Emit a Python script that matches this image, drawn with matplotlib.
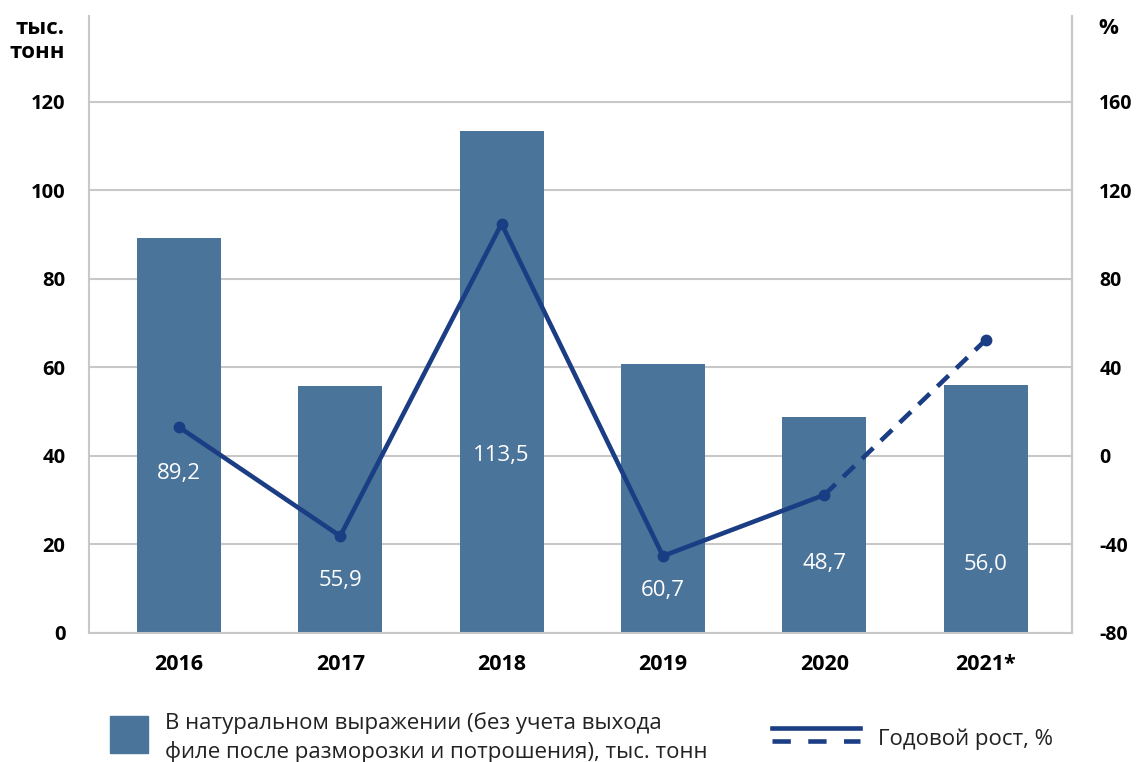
import matplotlib
matplotlib.use("Agg")
import matplotlib.pyplot as plt
from matplotlib.patches import Rectangle
from matplotlib.lines import Line2D

plt.rcParams['font.family'] = ['Open Sans', 'DejaVu Sans']
plt.rcParams['axes.unicode_minus'] = False

years = ['2016', '2017', '2018', '2019', '2020', '2021*']
volume = [89.2, 55.9, 113.5, 60.7, 48.7, 56.0]
growth = [13.1, -36.2, 104.9, -45.2, -17.6, 52.4]
label_y = [36.0, 11.8, 40.0, 9.7, 15.8, 15.4]
left_ticks = [0, 20, 40, 60, 80, 100, 120]
right_ticks = [-80, -40, 0, 40, 80, 120, 160]

bar_color = '#4a7499'
line_color = '#1b3d84'
grid_color = '#c8c8c8'
text_color = '#222222'

fig = plt.figure(figsize=(11.36, 7.62), dpi=100)
ax = fig.add_axes([0.0783, 0.1693, 0.8654, 0.8097])
x = list(range(len(years)))

ax.bar(x, volume, width=0.52, color=bar_color, zorder=2)
for i, v in enumerate(volume):
    ax.text(i, label_y[i], f'{v:.1f}'.replace('.', ','), color='white',
            ha='center', va='center', fontsize=16, zorder=3)

ax.set_xlim(-0.557, 5.535)
ax.set_ylim(0, 139.4)
ax.set_yticks(left_ticks, labels=[str(t) for t in left_ticks],
              fontsize=14.5, fontweight='bold')
ax.set_xticks(x, labels=years, fontsize=15.5, fontweight='bold')
ax.tick_params(axis='both', length=0)
ax.tick_params(axis='y', pad=17)
ax.tick_params(axis='x', pad=15)
ax.grid(axis='y', color=grid_color, lw=1.5, zorder=0)
ax.spines['top'].set_visible(False)
for s in ['left', 'right', 'bottom']:
    ax.spines[s].set_color(grid_color)
    ax.spines[s].set_linewidth(1.5)

ax2 = ax.twinx()
ax2.set_ylim(-80, 198.8)
ax2.set_yticks(right_ticks, labels=[str(t) for t in right_ticks],
               fontsize=14, fontweight='bold')
ax2.tick_params(axis='y', length=0, pad=19.5)
for s in ['top', 'left', 'bottom']:
    ax2.spines[s].set_visible(False)
ax2.spines['right'].set_color(grid_color)
ax2.spines['right'].set_linewidth(1.5)

ax2.plot(x[:5], growth[:5], color=line_color, lw=3.3, zorder=4)
ax2.plot(x[4:], growth[4:], color=line_color, lw=3.3, ls=(0, (3.4, 2.3)), zorder=4)
ax2.plot(x, growth, 'o', color=line_color, ms=7.5, zorder=5)

fig.text(65 / 1136, 1 - 28 / 762, 'тыс.', ha='right', va='center', fontsize=16, fontweight='bold')
fig.text(65 / 1136, 1 - 53 / 762, 'тонн', ha='right', va='center', fontsize=16, fontweight='bold')
fig.text(1098 / 1136, 1 - 28 / 762, '%', ha='left', va='center', fontsize=16, fontweight='bold')

# legend
fig.add_artist(Rectangle((110 / 1136, 1 - 753 / 762), 38 / 1136, 37 / 762,
                         transform=fig.transFigure, color=bar_color))
fig.text(165 / 1136, 1 - 723 / 762, 'В натуральном выражении (без учета выхода',
         ha='left', va='center', fontsize=16, color=text_color)
fig.text(165 / 1136, 1 - 752 / 762, 'филе после разморозки и потрошения), тыс. тонн',
         ha='left', va='center', fontsize=16, color=text_color)
fig.add_artist(Line2D([772 / 1136, 860 / 1136], [1 - 728 / 762] * 2,
                      transform=fig.transFigure, color=line_color, lw=3.3))
fig.add_artist(Line2D([772 / 1136, 860 / 1136], [1 - 741 / 762] * 2,
                      transform=fig.transFigure, color=line_color, lw=3.3,
                      ls=(0, (4.0, 3.8))))
fig.text(878 / 1136, 1 - 739 / 762, 'Годовой рост, %',
         ha='left', va='center', fontsize=16, color=text_color)

fig.savefig('out.png', dpi=100)
